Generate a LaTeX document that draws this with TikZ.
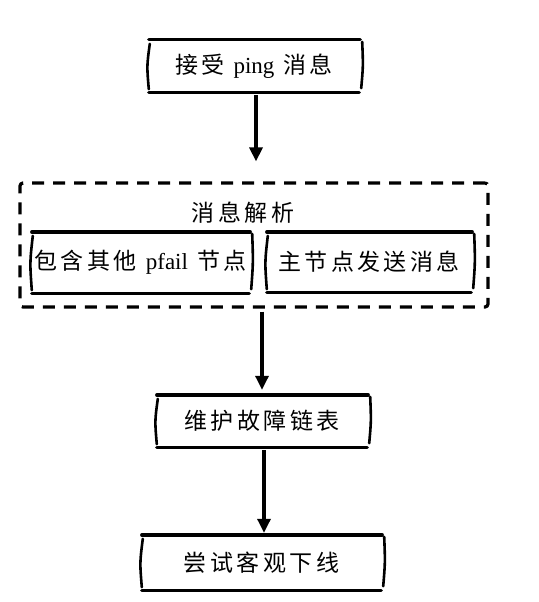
\documentclass[tikz,border=0pt]{standalone}
\usepackage{fontspec}
\setmainfont{Liberation Serif}
\newfontfamily\cjk[LetterSpace=15]{Noto Sans CJK SC}
\usetikzlibrary{arrows.meta}
\tikzset{
  boxnode/.style={minimum width=#1, inner sep=0pt, font=\fontsize{23}{26}\selectfont},
  sk/.style={line width=3.4pt, line cap=round},
  skside/.style={line width=2.6pt, line cap=round},
  dashbox/.style={draw, line width=3.2pt, dash pattern=on 12pt off 9pt, rounded corners=3pt},
  arr/.style={line width=3.2pt, -{Triangle[length=14pt,width=13pt]}},
  lbl/.style={font=\fontsize{23}{26}\selectfont}
}
\newcommand{\gapw}{\hspace*{9pt}}
\newcommand{\sketchbox}[1]{%
  \draw[sk] ([xshift=-1pt]#1.north west) -- ([xshift=2pt]#1.north east);
  \draw[sk] ([xshift=-1pt]#1.south west) -- ([xshift=1pt]#1.south east);
  \draw[skside] ([yshift=-4pt]#1.north west) .. controls ([xshift=-3pt]#1.west) .. ([xshift=-1pt,yshift=3pt]#1.south west);
  \draw[skside] ([xshift=4pt,yshift=-2pt]#1.north east) .. controls ([xshift=5pt]#1.east) .. ([xshift=3pt,yshift=4pt]#1.south east);
}
\begin{document}
\begin{tikzpicture}[x=1pt,y=1pt]
\useasboundingbox[fill=white] (0,0) rectangle (538,-602);
\node[boxnode=208pt, minimum height=52pt] (b1) at (254,-66) {{\cjk 接受}\gapw ping\gapw{\cjk 消息}};
\node[dashbox, minimum width=468pt, minimum height=124pt] (parse) at (254,-245) {};
\node[lbl] (title) at (243,-213) {\cjk 消息解析};
\node[boxnode=215pt, minimum height=61pt] (left) at (140.5,-262.5) {{\cjk 包含其他}\gapw pfail\gapw{\cjk 节点}};
\node[boxnode=202pt, minimum height=60pt] (right) at (369,-262) {\cjk 主节点发送消息};
\node[boxnode=208pt, minimum height=52pt] (b3) at (262,-421) {\cjk 维护故障链表};
\node[boxnode=237pt, minimum height=55pt] (b4) at (261.5,-562.5) {\cjk 尝试客观下线};
\sketchbox{b1}
\sketchbox{left}
\sketchbox{right}
\sketchbox{b3}
\sketchbox{b4}
\draw[arr, shorten <=3pt, shorten >=20pt] ([xshift=2pt]b1.south) -- ([xshift=2pt]parse.north);
\draw[arr, shorten <=3pt, shorten >=5pt] ([xshift=8pt]parse.south) -- (b3.north);
\draw[arr, shorten <=3pt, shorten >=2pt] ([xshift=2pt]b3.south) -- ([xshift=2.5pt]b4.north);
\end{tikzpicture}
\end{document}
